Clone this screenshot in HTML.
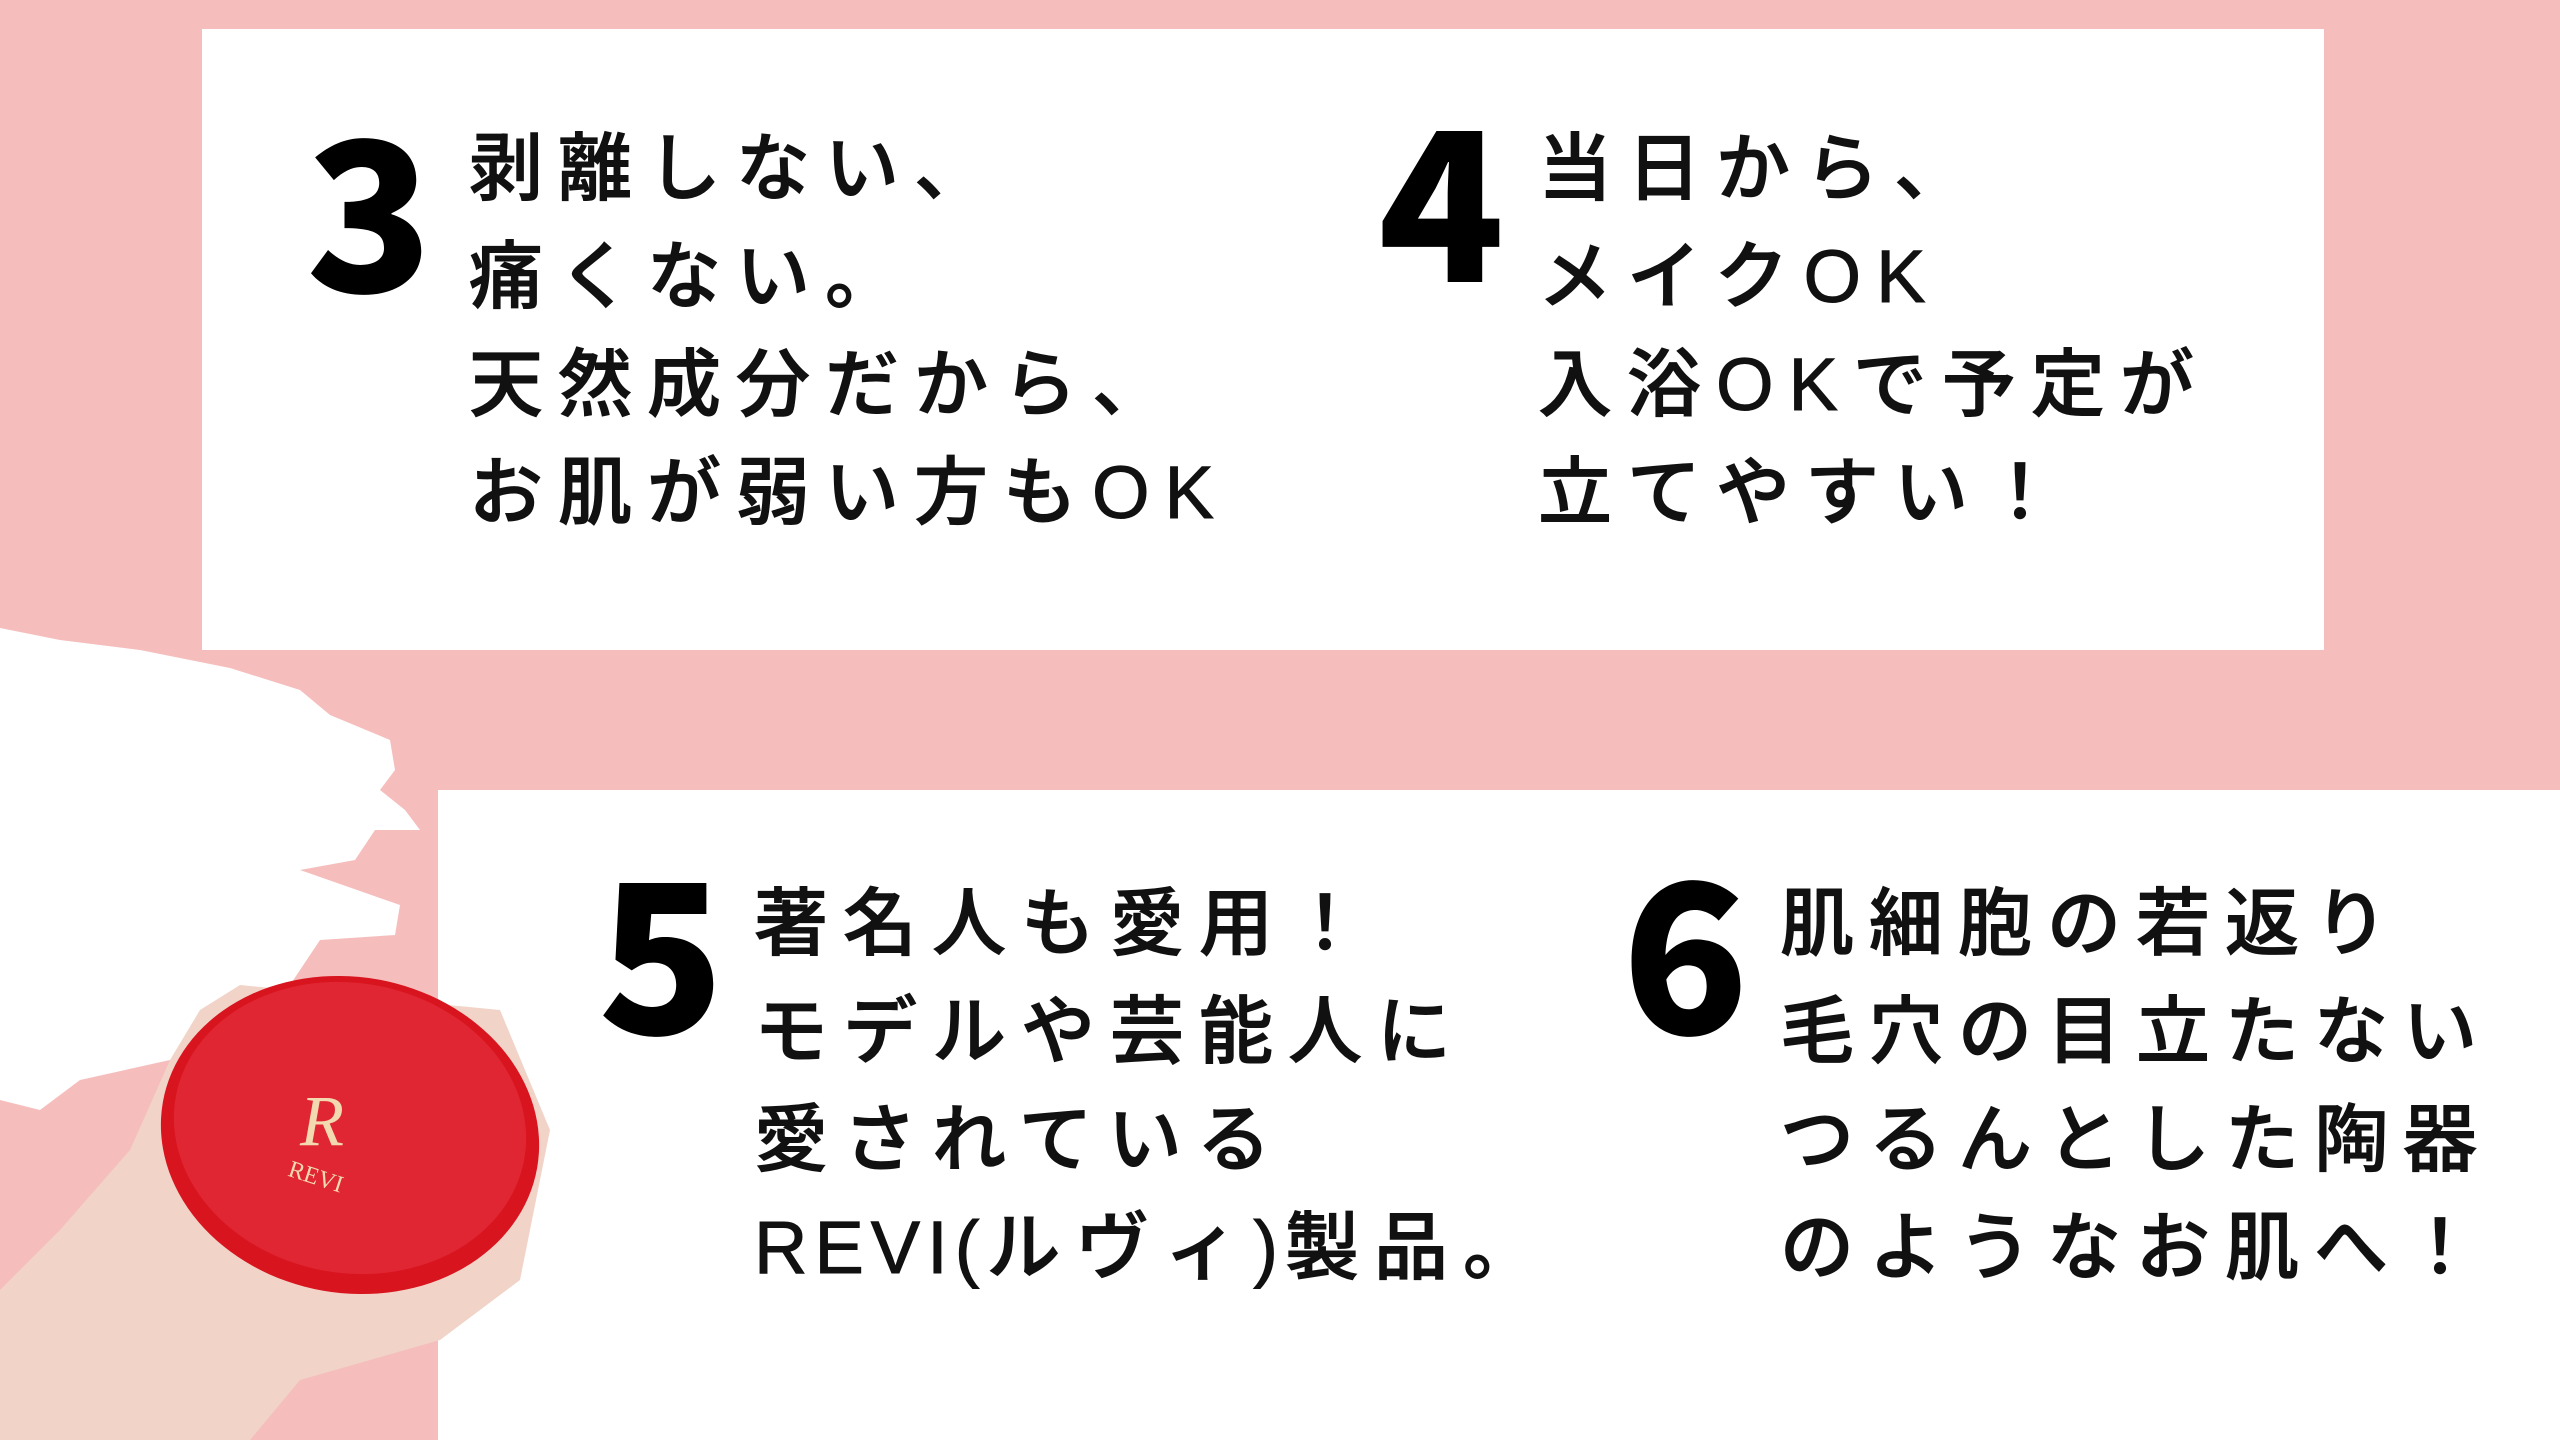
<!DOCTYPE html>
<html><head><meta charset="utf-8"><style>
body{margin:0;width:2560px;height:1440px;background:#f5bebc;position:relative;overflow:hidden;font-family:"Liberation Sans","Noto Sans CJK JP",sans-serif}
.box{position:absolute;background:#fff}
.n{position:absolute;font-family:"Noto Sans CJK JP","Liberation Sans",sans-serif;font-weight:900;font-size:208px;line-height:1;color:#000}
.t{position:absolute;font-family:"Liberation Sans","Noto Sans CJK JP",sans-serif;font-weight:500;font-size:74px;letter-spacing:15px;line-height:108px;color:#111;white-space:nowrap;-webkit-text-stroke:1px #111}
.l{letter-spacing:7px}
</style></head><body>
<div class="box" style="left:202px;top:29px;width:2122px;height:621px"></div>
<div class="box" style="left:438px;top:790px;width:2122px;height:650px"></div>
<svg style="position:absolute;left:0;top:0" width="700" height="1440">
<path d="M0 628 L60 640 L140 650 L230 668 L300 690 L330 715 L390 740 L395 770 L380 790 L405 810 L420 830 L375 830 L355 860 L300 870 L400 905 L395 935 L320 940 L300 970 L280 1000 L240 1040 L170 1060 L80 1080 L40 1110 L0 1100 Z" fill="#fff"/>
<path d="M0 1440 L0 1290 L60 1230 L130 1150 L170 1060 L200 1010 L240 985 L500 1010 L550 1130 L520 1280 L440 1340 L300 1380 L250 1440 Z" fill="#f1d3c8"/>
<ellipse cx="350" cy="1135" rx="190" ry="158" fill="#d8141f" transform="rotate(10 350 1135)"/>
<ellipse cx="350" cy="1128" rx="177" ry="145" fill="#e02633" transform="rotate(10 350 1128)"/>
<text x="300" y="1145" font-family="Liberation Serif,serif" font-size="72" fill="#f3d9b0" font-style="italic">R</text>
<text x="288" y="1182" font-family="Liberation Serif,serif" font-size="24" fill="#f3d9b0" transform="rotate(18 308 1175)">REVI</text>
</svg>
<div class="n" style="left:306px;top:98px">3</div>
<div class="t" style="left:469px;top:115px">剥離しない、<br>痛くない。<br>天然成分だから、<br>お肌が弱い方もOK</div>
<div class="n" style="left:1378px;top:88px">4</div>
<div class="t" style="left:1538px;top:115px">当日から、<br>メイクOK<br>入浴OKで予定が<br>立てやすい！</div>
<div class="n" style="left:598px;top:840px">5</div>
<div class="t" style="left:754px;top:870px">著名人も愛用！<br>モデルや芸能人に<br>愛されている<br><span class="l">REVI(</span>ルヴィ<span class="l">)</span>製品。</div>
<div class="n" style="left:1622px;top:840px">6</div>
<div class="t" style="left:1780px;top:870px">肌細胞の若返り<br>毛穴の目立たない<br>つるんとした陶器<br>のようなお肌へ！</div>
</body></html>
